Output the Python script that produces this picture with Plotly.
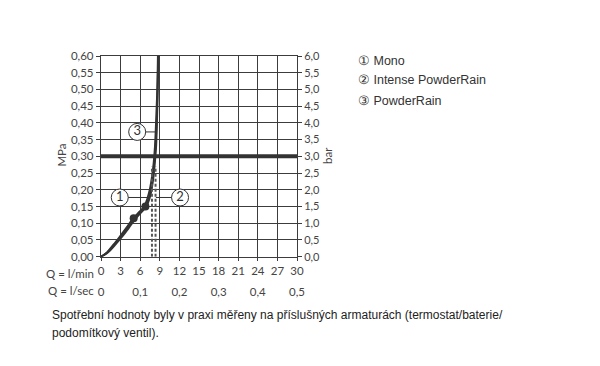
import plotly.graph_objects as go

# ---- data ----
q_ticks = [0, 3, 6, 9, 12, 15, 18, 21, 24, 27, 30]
q_tick_labels = ["0", "3", "6", "9", "12", "15", "18", "21", "24", "27", "30"]
qsec_ticks = [0, 6, 12, 18, 24, 30]
qsec_labels = ["0", "0,1", "0,2", "0,3", "0,4", "0,5"]
mpa_ticks = [0.0, 0.05, 0.10, 0.15, 0.20, 0.25, 0.30, 0.35, 0.40, 0.45, 0.50, 0.55, 0.60]
mpa_labels = ["0,00", "0,05", "0,10", "0,15", "0,20", "0,25", "0,30",
              "0,35", "0,40", "0,45", "0,50", "0,55", "0,60"]
bar_ticks = [0, 0.5, 1, 1.5, 2, 2.5, 3, 3.5, 4, 4.5, 5, 5.5, 6]
bar_labels = ["0,0", "0,5", "1,0", "1,5", "2,0", "2,5", "3,0",
              "3,5", "4,0", "4,5", "5,0", "5,5", "6,0"]

p_curve = [0, 0.013, 0.036, 0.061, 0.087, 0.112, 0.133, 0.15, 0.175, 0.2, 0.24, 0.28, 0.33, 0.42, 0.5, 0.6]
q_mono = [0, 0.9, 1.9, 2.9, 3.9, 4.8, 5.8, 6.6, 7.1, 7.45, 7.8, 8.05, 8.25, 8.45, 8.6, 8.7]
q_intense = [0, 1.0, 2.05, 3.1, 4.1, 5.05, 6.0, 6.8, 7.3, 7.6, 7.95, 8.15, 8.35, 8.55, 8.65, 8.75]
q_powder = [0, 1.1, 2.2, 3.3, 4.3, 5.25, 6.2, 6.95, 7.45, 7.75, 8.05, 8.25, 8.45, 8.6, 8.7, 8.8]

dot_q = [5.0, 6.8]
dot_p = [0.115, 0.15]

dotted_q = [7.8, 8.35]
dotted_top = [0.27, 0.27]

limit_p = 0.30

callout_text = ["1", "2", "3"]
callout_q = [2.87, 12.1, 5.54]
callout_p = [0.177, 0.177, 0.373]
leader_end_q = [7.15, 8.4, 8.3]

legend_items = ["\u2460 Mono", "\u2461 Intense PowderRain", "\u2462 PowderRain"]
caption_lines = ["Spotřební hodnoty byly v praxi měřeny na příslušných armaturách (termostat/baterie/",
                 "podomítkový ventil)."]

# ---- figure ----
W, H = 600, 366
OFF = 8  # page body margin
ML, MT = 100.5 - OFF, 56 - OFF
PR, PB = 297 - OFF, 256.7 - OFF  # plot right / bottom in page px
MR, MB = W - PR, 60
plot_w = W - ML - MR
plot_h = H - MT - MB
dom_bottom = (H - MB - PB) / plot_h


def px(xref_pix):
    return (xref_pix - OFF - ML) / plot_w


def py(yref_pix):
    return 1 - (yref_pix - OFF - MT) / plot_h


dark = "#333333"
grid = "#3c3c3c"
tickfont = dict(family="Lato", size=11.5, color="#444444")
rtickfont = dict(family="Lato", size=11, color="#444444")

fig = go.Figure()

for qs in (q_mono, q_intense, q_powder):
    fig.add_trace(go.Scatter(x=qs, y=p_curve, mode="lines", line=dict(color=dark, width=1.8, shape="spline"),
                             showlegend=False, hoverinfo="skip"))

for xq, top in zip(dotted_q, dotted_top):
    fig.add_trace(go.Scatter(x=[xq, xq], y=[0, top], mode="lines",
                             line=dict(color="#555555", width=2, dash="3px,2px"),
                             showlegend=False, hoverinfo="skip"))

# thick limit line
fig.add_trace(go.Scatter(x=[0, 30], y=[limit_p, limit_p], mode="lines",
                         line=dict(color=dark, width=4), showlegend=False, hoverinfo="skip"))

fig.add_trace(go.Scatter(x=dot_q, y=dot_p, mode="markers",
                         marker=dict(color=dark, size=8), showlegend=False, hoverinfo="skip"))

# leader lines
for cq, cp, eq in zip(callout_q, callout_p, leader_end_q):
    fig.add_trace(go.Scatter(x=[cq, eq], y=[cp, cp], mode="lines",
                             line=dict(color=dark, width=1), showlegend=False, hoverinfo="skip"))

fig.add_trace(go.Scatter(x=callout_q, y=callout_p, mode="markers+text", text=callout_text,
                         textposition="middle center",
                         textfont=dict(family="Lato", size=13, color=dark),
                         marker=dict(symbol="circle", size=17, color="white", line=dict(color=dark, width=1)),
                         showlegend=False, hoverinfo="skip"))

# secondary (bar) axis trace
fig.add_trace(go.Scatter(x=[0], y=[0], yaxis="y2", mode="markers", marker=dict(opacity=0),
                         showlegend=False, hoverinfo="skip"))
# l/sec axis trace
fig.add_trace(go.Scatter(x=[0], y=[0], xaxis="x2", mode="markers", marker=dict(opacity=0),
                         showlegend=False, hoverinfo="skip"))

fig.update_layout(
    width=W, height=H,
    margin=dict(l=ML, r=MR, t=MT, b=MB, pad=0, autoexpand=False),
    paper_bgcolor="white", plot_bgcolor="white",
    showlegend=False,
    xaxis=dict(range=[0, 30], tickvals=q_ticks, ticktext=q_tick_labels, tickfont=tickfont,
               showgrid=True, gridcolor=grid, gridwidth=1.3, zeroline=False,
               showline=True, linecolor=grid, linewidth=1.3, mirror=True,
               ticks="outside", ticklen=3, tickcolor=grid, tickwidth=1,
               anchor="y", automargin=False),
    xaxis2=dict(range=[0, 30], overlaying="x", anchor="free", position=0.118,
                tickvals=qsec_ticks, ticktext=qsec_labels, tickfont=tickfont,
                showgrid=False, zeroline=False, showline=False, ticks="", automargin=False),
    yaxis=dict(range=[0, 0.6], domain=[dom_bottom, 1], tickvals=mpa_ticks, ticktext=mpa_labels,
               tickfont=tickfont, showgrid=True, gridcolor=grid, gridwidth=1.3, zeroline=False,
               showline=True, linecolor=grid, linewidth=1.3, mirror=True,
               ticks="outside", ticklen=4, tickcolor=grid, tickwidth=1, automargin=False),
    yaxis2=dict(range=[0, 6], overlaying="y", side="right", tickvals=bar_ticks, ticktext=bar_labels,
                tickfont=rtickfont, showgrid=False, zeroline=False, showline=False,
                ticks="outside", ticklen=4, tickcolor=grid, tickwidth=1, automargin=False),
)

axis_title_font = dict(family="Lato", size=11.5, color="#444444")
annos = []
annos.append(dict(text="MPa", x=px(60), y=py(155), xref="paper", yref="paper", textangle=-90,
                  xanchor="center", yanchor="middle", showarrow=False, font=axis_title_font))
annos.append(dict(text="bar", x=px(327), y=py(155), xref="paper", yref="paper", textangle=-90,
                  xanchor="center", yanchor="middle", showarrow=False, font=axis_title_font))
annos.append(dict(text="Q = l/min", x=px(95), y=py(273), xref="paper", yref="paper",
                  xanchor="right", yanchor="middle", showarrow=False, font=tickfont))
annos.append(dict(text="Q = l/sec", x=px(95), y=py(290), xref="paper", yref="paper",
                  xanchor="right", yanchor="middle", showarrow=False, font=tickfont))
for i, t in enumerate(legend_items):
    annos.append(dict(text=t, x=px(356), y=py(60.5 + 20 * i), xref="paper", yref="paper",
                      xanchor="left", yanchor="middle", showarrow=False,
                      font=dict(family="Liberation Sans, Arial", size=12.5, color="#333333")))
for i, t in enumerate(caption_lines):
    annos.append(dict(text=t, x=px(49), y=py(315 + 18 * i), xref="paper", yref="paper",
                      xanchor="left", yanchor="middle", showarrow=False,
                      font=dict(family="Liberation Sans, Arial", size=12, color="#222222")))
fig.update_layout(annotations=annos)

fig.write_html("out.html")
